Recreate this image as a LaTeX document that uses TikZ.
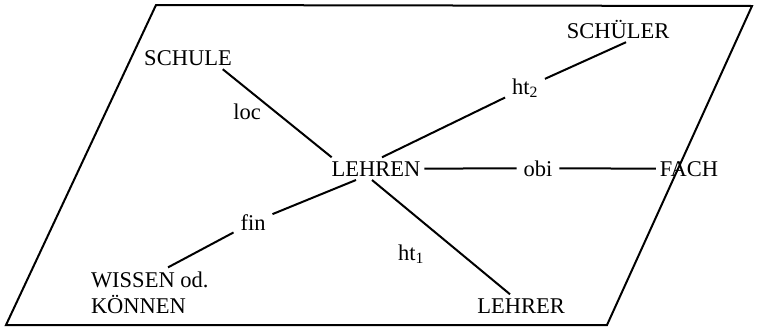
\documentclass[tikz,border=0pt]{standalone}
\usepackage{fontspec}
\setmainfont{Liberation Serif}
\usetikzlibrary{positioning}

\begin{document}
\begin{tikzpicture}[x=1pt, y=-1pt,
  line width=2pt,
  word/.style={inner sep=3pt, anchor=base},
  rel/.style={inner sep=6pt, anchor=base},
  font=\fontsize{22.5}{26}\selectfont]

  \useasboundingbox (0,0) rectangle (759,327);
  \draw (156,5) -- (752,6) -- (607,325) -- (6,325) -- cycle;

  \node[word] (lehren) at (376,176) {LEHREN};
  \node[word] (schule) at (188,65) {SCHULE};
  \node[word] (schueler) at (618,38) {SCHÜLER};
  \node[word] (fach) at (689,176) {FACH};
  \node[word] (lehrer) at (521,313) {LEHRER};
  \node[word, anchor=base west, align=left] (wissen) at (87,313) {WISSEN od.\\KÖNNEN};

  \node[rel] (loc) at (247,119) {loc};
  \node[rel] (ht2) at (525,94) {ht\textsubscript{2}};
  \node[rel] (obi) at (538,176) {obi};
  \node[rel] (fin) at (253,230) {fin};
  \node[rel] (ht1) at (411,260) {ht\textsubscript{1}};

  \draw ([xshift=-13pt]schule.south east) -- ([xshift=4pt]lehren.north west);
  \draw ([xshift=6pt]lehren.north) -- (ht2) -- ([xshift=8pt]schueler.south);
  \draw (lehren.east) -- (obi.west);
  \draw (obi.east) -- (fach.west);
  \draw ([xshift=-20pt]lehren.south) -- (fin) -- ([xshift=81pt]wissen.north west);
  \draw ([xshift=-4pt]lehren.south) -- ([xshift=-11pt]lehrer.north);
\end{tikzpicture}
\end{document}
